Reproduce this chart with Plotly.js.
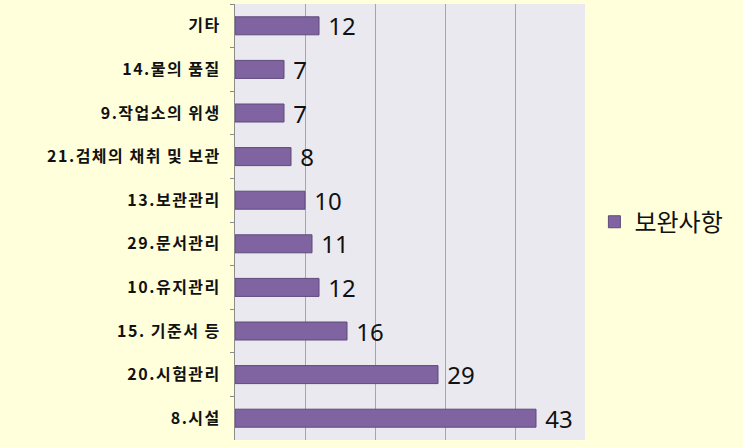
<!DOCTYPE html>
<html><head><meta charset="utf-8">
<script src="https://cdn.plot.ly/plotly-3.0.1.min.js"></script>
<style>
html,body{margin:0;padding:0;background:#FFFFDC;}
.ytick text{letter-spacing:1.5px;}
</style>
</head><body>
<div id="chart" style="width:743px;height:447px;"></div>
<script>
const categories = ["기타","14.물의 품질","9.작업소의 위생","21.검체의 채취 및 보관","13.보관관리","29.문서관리","10.유지관리","15. 기준서 등","20.시험관리","8.시설"];
const values = [12,7,7,8,10,11,12,16,29,43];
const seriesName = "보완사항";

const trace = {
  type: "bar",
  orientation: "h",
  y: categories,
  x: values,
  name: seriesName,
  texttemplate: " %{x}",
  textposition: "outside",
  constraintext: "none",
  cliponaxis: false,
  textfont: {family: "Noto Sans, Noto Sans CJK KR, sans-serif", size: 24, color: "#111"},
  marker: {color: "#8064A2", line: {color: "#5E4A7A", width: 1}},
  showlegend: true
};

const layout = {
  width: 743, height: 447,
  margin: {l: 235, r: 158, t: 4, b: 7},
  paper_bgcolor: "#FFFFDC",
  plot_bgcolor: "#EBE9F0",
  bargap: 0.587,
  font: {family: "Noto Sans CJK KR, sans-serif"},
  xaxis: {
    range: [0, 50], dtick: 10, showticklabels: false,
    showgrid: true, gridcolor: "#A6A6A6", gridwidth: 1,
    zeroline: false, showline: false, fixedrange: true
  },
  yaxis: {
    type: "category", autorange: "reversed",
    showline: true, linecolor: "#8C8C8C", linewidth: 1,
    ticks: "outside", tickson: "boundaries", ticklen: 4, tickcolor: "#8C8C8C",
    ticklabelstandoff: 10,
    tickfont: {family: "Noto Sans CJK KR, sans-serif", size: 16, color: "#111", weight: "bold"},
    showgrid: false
  },
  legend: {
    xref: "container", yref: "container",
    x: 0.80, y: 0.503, xanchor: "left", yanchor: "middle",
    font: {family: "Noto Sans CJK KR, sans-serif", size: 24, color: "#111"},
    bgcolor: "rgba(0,0,0,0)"
  }
};

Plotly.newPlot("chart", [trace], layout, {displayModeBar: false, staticPlot: true});
</script>
</body></html>
